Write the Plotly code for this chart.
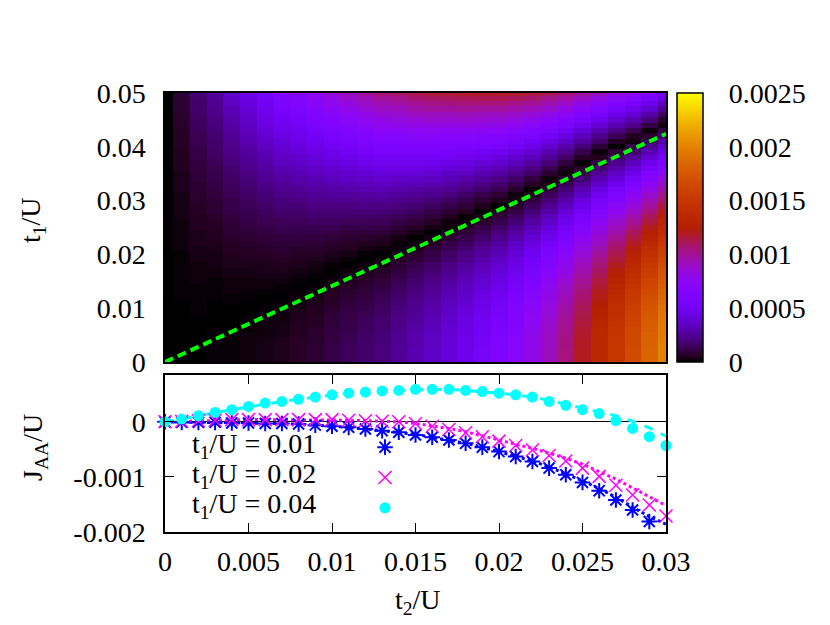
import numpy as np
import plotly.graph_objects as go

# map grid: t2/U along x, t1/U along y
t2_map = [0.0, 0.001, 0.002, 0.003, 0.004, 0.005, 0.006, 0.007, 0.008, 0.009, 0.01,
          0.011, 0.012, 0.013, 0.014, 0.015, 0.016, 0.017, 0.018, 0.019, 0.02,
          0.021, 0.022, 0.023, 0.024, 0.025, 0.026, 0.027, 0.028, 0.029, 0.03]
t1_map = [0.0, 0.001, 0.002, 0.003, 0.004, 0.005, 0.006, 0.007, 0.008, 0.009, 0.01,
          0.011, 0.012, 0.013, 0.014, 0.015, 0.016, 0.017, 0.018, 0.019, 0.02,
          0.021, 0.022, 0.023, 0.024, 0.025, 0.026, 0.027, 0.028, 0.029, 0.03,
          0.031, 0.032, 0.033, 0.034, 0.035, 0.036, 0.037, 0.038, 0.039, 0.04,
          0.041, 0.042, 0.043, 0.044, 0.045, 0.046, 0.047, 0.048, 0.049, 0.05]

# |J_AA|/U in units of 1e-5, one list per t2 column (t1 = 0 ... 0.05)
jaa_map = [
    [0,0,0,0,0,0,0,0,0,0, 0,0,0,0,0,0,0,0,0,0, 0,0,0,0,0,0,0,0,0,0, 0,0,0,0,0,0,0,0,0,0, 0,0,0,0,0,0,0,0,0,0, 0],
    [0,0,0,0,0,0,0,0,0,0, 0,0,1,1,1,1,1,1,1,1, 1,2,2,2,2,2,2,3,3,3, 3,3,4,4,4,4,5,5,5,5, 6,6,6,6,7,7,7,8,8,8, 9],
    [0,0,0,0,0,0,0,0,0,1, 1,1,1,1,1,2,2,2,2,3, 3,3,4,4,4,5,5,5,6,6, 7,7,8,8,9,9,10,10,11,11, 12,13,13,14,15,15,16,17,17,18, 19],
    [1,1,1,1,1,1,1,0,0,0, 0,0,1,1,1,1,2,2,3,3, 3,4,4,5,5,6,6,7,8,8, 9,10,10,11,12,12,13,14,15,16, 17,17,18,19,20,21,22,23,24,25, 26],
    [1,1,1,1,1,1,0,0,0,0, 0,1,1,2,2,2,3,3,4,4, 5,6,6,7,8,8,9,10,11,12, 12,13,14,15,16,17,18,20,21,22, 23,24,25,27,28,29,31,32,34,35, 36],
    [2,2,2,2,2,2,1,1,1,0, 0,0,1,1,2,2,3,3,4,5, 6,6,7,8,9,10,11,12,13,14, 15,16,17,19,20,21,23,24,25,27, 28,30,32,33,35,36,38,40,42,44, 46],
    [3,3,3,3,3,2,2,2,2,1, 1,0,0,1,2,2,3,4,4,5, 6,7,8,9,10,11,13,14,15,16, 18,19,21,22,24,25,27,28,30,32, 34,36,38,40,42,44,46,48,50,52, 54],
    [4,4,4,4,4,3,3,3,2,2, 1,1,0,1,1,2,3,4,5,6, 7,8,9,10,12,13,14,16,17,19, 20,22,24,25,27,29,31,33,35,37, 39,41,44,46,48,51,53,56,58,61, 64],
    [6,6,6,6,6,5,5,5,4,4, 3,2,2,1,0,1,2,3,4,5, 6,7,9,10,11,13,14,16,18,19, 21,23,25,27,29,31,33,35,37,40, 42,44,47,49,52,55,57,60,63,66, 69],
    [8,8,8,8,7,7,7,6,6,5, 5,4,3,2,1,0,1,2,3,4, 6,7,8,10,12,13,15,17,19,21, 23,25,27,29,31,34,36,39,41,44, 46,49,52,55,58,61,64,67,70,74, 77],
    [11,11,11,11,10,10,10,9,9,8, 7,6,6,5,4,2,1,0,1,3, 4,6,7,9,11,13,15,17,19,21, 23,26,28,30,33,36,38,41,44,47, 50,53,56,59,63,66,69,73,77,80, 84],
    [14,14,14,14,13,13,12,12,11,11, 10,9,8,7,6,5,3,2,0,1, 3,5,6,8,10,12,14,17,19,21, 24,26,29,32,35,37,40,43,47,50, 53,57,60,64,67,71,75,79,83,87, 91],
    [17,17,17,17,16,16,15,15,14,13, 12,11,10,9,8,7,5,4,2,0, 1,3,5,7,9,12,14,17,19,22, 24,27,30,33,36,39,43,46,49,53, 57,60,64,68,72,76,80,85,89,93, 98],
    [20,20,20,20,19,19,18,18,17,16, 15,14,13,12,10,9,7,6,4,2, 0,2,4,6,9,11,14,16,19,22, 25,28,31,34,38,41,45,48,52,56, 60,64,68,72,77,81,86,90,95,100, 105],
    [25,25,25,25,24,24,23,22,22,21, 20,19,17,16,15,13,11,10,8,6, 4,2,1,3,6,8,11,14,17,20, 23,26,29,33,36,40,44,48,52,56, 60,64,68,73,78,82,87,92,97,102, 108],
    [30,30,30,29,29,29,28,27,26,25, 24,23,22,20,19,17,15,14,12,9, 7,5,2,0,3,6,9,12,15,18, 21,25,28,32,36,40,44,48,52,57, 61,66,71,75,80,85,91,96,101,107, 112],
    [35,35,35,34,34,34,33,32,31,30, 29,28,26,25,23,22,20,18,16,13, 11,9,6,3,0,3,6,9,12,15, 19,23,26,30,34,39,43,47,52,56, 61,66,71,76,81,87,92,98,103,109, 115],
    [41,41,41,40,40,39,39,38,37,36, 35,33,32,30,29,27,25,23,21,18, 16,13,11,8,5,2,2,5,8,12, 16,20,24,28,32,36,41,45,50,55, 60,65,70,75,81,87,92,98,104,110, 116],
    [47,47,47,46,46,45,45,44,43,42, 40,39,37,36,34,32,30,28,26,23, 21,18,15,12,9,6,2,1,5,9, 12,16,21,25,29,34,39,43,48,53, 59,64,69,75,81,87,93,99,105,111, 118],
    [54,54,54,53,53,52,52,51,50,48, 47,46,44,42,40,38,36,34,32,29, 26,24,21,17,14,11,7,4,0,4, 8,12,17,21,26,31,35,40,46,51, 56,62,68,74,80,86,92,98,105,112, 118],
    [61,61,61,60,60,59,58,57,56,55, 54,52,51,49,47,45,43,40,38,35, 32,29,26,23,20,16,12,9,5,0, 4,8,13,17,22,27,32,38,43,49, 54,60,66,72,78,85,91,98,105,112, 119],
    [70,70,70,69,69,68,67,66,65,64, 63,61,59,57,55,53,51,48,46,43, 40,37,34,30,27,23,19,15,11,7, 3,2,7,12,17,22,27,33,38,44, 50,56,62,69,75,82,89,96,103,110, 118],
    [80,80,80,79,79,78,77,76,75,74, 72,71,69,67,65,62,60,57,55,52, 49,46,42,39,35,31,27,23,19,14, 10,5,0,5,10,16,21,27,33,39, 45,51,58,64,71,78,85,92,100,107, 115],
    [92,92,92,91,91,90,89,88,87,85, 84,82,80,78,76,74,71,69,66,63, 60,56,53,49,45,41,37,33,28,24, 19,14,9,4,2,7,13,19,25,31, 38,44,51,58,65,72,79,87,95,102, 110],
    [105,105,105,104,104,103,102,101,100,98, 97,95,93,91,89,86,83,81,78,75, 71,68,64,61,57,53,48,44,39,34, 29,24,19,14,8,2,4,10,16,23, 29,36,43,50,58,65,73,81,89,97, 105],
    [120,120,120,119,119,118,117,116,114,113, 111,109,107,105,103,100,98,95,92,89, 85,82,78,74,70,66,61,57,52,47, 42,36,31,25,19,13,7,1,6,12, 19,26,33,41,48,56,64,72,80,89, 98],
    [135,135,135,134,134,133,132,131,129,128, 126,124,122,120,117,115,112,109,106,103, 99,95,91,87,83,79,74,69,64,59, 54,49,43,37,31,25,18,12,5,2, 9,16,24,31,39,47,55,64,72,81, 90],
    [150,150,150,149,149,148,147,145,144,142, 141,139,137,134,132,129,126,123,120,116, 113,109,105,101,96,92,87,82,77,72, 66,61,55,49,42,36,29,23,16,9, 1,6,14,22,30,38,47,55,64,73, 82],
    [166,166,166,165,164,164,163,161,160,158, 156,154,152,150,147,144,141,138,135,131, 127,123,119,115,110,105,100,95,90,84, 79,73,67,60,54,47,40,33,26,18, 11,3,5,13,22,30,39,48,57,67, 76],
    [183,183,183,182,181,181,179,178,177,175, 173,171,169,166,163,161,157,154,151,147, 143,139,135,130,125,121,115,110,105,99, 93,87,81,74,67,61,53,46,39,31, 23,15,7,2,11,20,29,38,47,57, 67],
    [200,200,200,199,198,197,196,195,193,192, 190,188,185,183,180,177,174,171,167,163, 159,155,151,146,141,136,131,126,120,114, 108,102,96,89,82,75,68,60,53,45, 37,29,20,11,3,7,16,25,35,45, 55],
]

# t1 = sqrt(2) t2 guide line
guide_t2 = [0.0, 0.03]
guide_t1 = [0.0, 0.0424]

# lower panel: J_AA/U against t2/U
t2_pts = [0.0, 0.001, 0.002, 0.003, 0.004, 0.005, 0.006, 0.007, 0.008, 0.009, 0.01,
          0.011, 0.012, 0.013, 0.014, 0.015, 0.016, 0.017, 0.018, 0.019, 0.02,
          0.021, 0.022, 0.023, 0.024, 0.025, 0.026, 0.027, 0.028, 0.029, 0.03]
jaa_001 = [0, -0.00001, -0.00001, -0.00001, -0.00002, -0.00002, -0.00003, -0.00003, -0.00004, -0.00006,
           -0.00008, -0.0001, -0.00013, -0.00016, -0.00019, -0.00024, -0.00028, -0.00033, -0.00039, -0.00046,
           -0.00054, -0.00063, -0.00072, -0.00084, -0.00096, -0.0011, -0.00125, -0.00142, -0.0016, -0.00181]
jaa_002 = [0, 0.00001, 0.00002, 0.00003, 0.00004, 0.00004, 0.00004, 0.00004, 0.00004, 0.00004,
           0.00004, 0.00003, 0.00002, 0.00001, 0, -0.00003, -0.00008, -0.00014, -0.0002, -0.00027,
           -0.00035, -0.00043, -0.00051, -0.00061, -0.00071, -0.00084, -0.00099, -0.00115, -0.00133, -0.00151,
           -0.00171]
jaa_004 = [0, 0.00005, 0.00011, 0.00017, 0.00022, 0.00028, 0.00034, 0.00037, 0.00041, 0.00045,
           0.00049, 0.00052, 0.00054, 0.00056, 0.00057, 0.00059, 0.00059, 0.00059, 0.00057, 0.00055,
           0.00052, 0.00049, 0.00045, 0.00037, 0.0003, 0.00022, 0.00015, 0.00002, -0.00012, -0.00027,
           -0.00043]
# approximate curves drawn through the points
fit_001 = [0, -0.00001, -0.00001, -0.00001, -0.00002, -0.00002, -0.00003, -0.00003, -0.00004, -0.00006,
           -0.00008, -0.0001, -0.00013, -0.00016, -0.00019, -0.00023, -0.00028, -0.00033, -0.00039, -0.00046,
           -0.00054, -0.00062, -0.00071, -0.00082, -0.00094, -0.00107, -0.00121, -0.00137, -0.00155, -0.00172,
           -0.00186]
fit_002 = [0, 0.00001, 0.00002, 0.00003, 0.00004, 0.00004, 0.00004, 0.00004, 0.00004, 0.00004,
           0.00004, 0.00003, 0.00002, 0.00001, 0, -0.00003, -0.00007, -0.00012, -0.00018, -0.00025,
           -0.00033, -0.00041, -0.00048, -0.00057, -0.00066, -0.00077, -0.0009, -0.00104, -0.0012, -0.00136,
           -0.00152]
fit_004 = [0, 0.00005, 0.00011, 0.00017, 0.00022, 0.00028, 0.00033, 0.00037, 0.00041, 0.00045,
           0.00049, 0.00052, 0.00054, 0.00056, 0.00057, 0.00058, 0.00059, 0.00059, 0.00057, 0.00055,
           0.00052, 0.00049, 0.00045, 0.00039, 0.00032, 0.00024, 0.00017, 0.00011, 0.00001, -0.00011,
           -0.00026]

# the page body has an 8px margin, so the figure is a bit smaller than the window
OFF = 8
W, H = 830 - 2 * OFF, 625 - 2 * OFF
FONT = dict(family="Liberation Serif", size=28, color="black")


def px_x(p):
    return (p - OFF) / W


def px_y(p):
    return 1 - (p - OFF) / H


# gnuplot rgbformulae 7,5,15
pal = []
for k in range(51):
    v = k / 50
    r, g, b = np.sqrt(v), v ** 3, max(0.0, np.sin(2 * np.pi * v))
    pal.append([v, "rgb(%d,%d,%d)" % (round(255 * r), round(255 * g), round(255 * b))])

fig = go.Figure()

fig.add_trace(go.Heatmap(x=t2_map, y=t1_map, z=np.array(jaa_map) * 1e-5, transpose=True,
                         colorscale=pal, zmin=0, zmax=0.0025, hoverinfo="skip",
                         xaxis="x", yaxis="y",
                         colorbar=dict(x=px_x(677), xanchor="left", xpad=0,
                                       y=px_y(93), yanchor="top", ypad=0,
                                       lenmode="pixels", len=269,
                                       thicknessmode="pixels", thickness=26,
                                       outlinecolor="black", outlinewidth=1.5,
                                       tickvals=[0, 0.0005, 0.001, 0.0015, 0.002, 0.0025],
                                       ticktext=["0", "0.0005", "0.001", "0.0015", "0.002", "0.0025"],
                                       ticks="outside", ticklen=20, tickcolor="rgba(0,0,0,0)",
                                       tickfont=FONT)))
fig.add_trace(go.Scatter(x=guide_t2, y=guide_t1, mode="lines", xaxis="x", yaxis="y",
                         line=dict(color="#00ff00", width=4, dash="9px,5px"),
                         showlegend=False, hoverinfo="skip"))

# curves
for yy, col, dash in [(fit_001, "#0000ff", "dot"), (fit_002, "#ff00ff", "dot"), (fit_004, "#00ffff", "dash")]:
    fig.add_trace(go.Scatter(x=t2_pts[:len(yy)], y=yy, mode="lines", xaxis="x2", yaxis="y2",
                             line=dict(color=col, width=3, dash=dash), showlegend=False))

# points
fig.add_trace(go.Scatter(x=t2_pts[:len(jaa_001)], y=jaa_001, mode="markers", xaxis="x2", yaxis="y2",
                         name=" ", cliponaxis=False,
                         marker=dict(symbol="asterisk-open", size=13, color="#0000ff",
                                     line=dict(color="#0000ff", width=2))))
fig.add_trace(go.Scatter(x=t2_pts, y=jaa_002, mode="markers", xaxis="x2", yaxis="y2",
                         name=" ", cliponaxis=False,
                         marker=dict(symbol="x-thin-open", size=13, color="#ff00ff",
                                     line=dict(color="#ff00ff", width=1.5))))
fig.add_trace(go.Scatter(x=t2_pts, y=jaa_004, mode="markers", xaxis="x2", yaxis="y2",
                         name=" ", cliponaxis=False,
                         marker=dict(symbol="circle", size=11, color="#00ffff")))

axis_common = dict(showgrid=False, showline=True, linecolor="black", linewidth=1.5,
                   tickfont=FONT, tickcolor="black", automargin=False)

fig.update_layout(
    width=W, height=H, margin=dict(l=0, r=0, t=0, b=0, autoexpand=False),
    paper_bgcolor="white", plot_bgcolor="white", font=FONT,
    xaxis=dict(domain=[px_x(165), px_x(666)], range=[0, 0.03], anchor="y",
               showticklabels=False, ticks="", mirror=True, zeroline=False, **axis_common),
    yaxis=dict(domain=[px_y(362), px_y(93)], range=[0, 0.05], anchor="x",
               tickvals=[0, 0.01, 0.02, 0.03, 0.04, 0.05],
               ticktext=["0", "0.01", "0.02", "0.03", "0.04", "0.05"],
               ticks="", mirror=True, zeroline=False, ticklabelstandoff=12, **axis_common),
    xaxis2=dict(domain=[px_x(165), px_x(666)], range=[0, 0.03], anchor="y2",
                tickvals=[0, 0.005, 0.01, 0.015, 0.02, 0.025, 0.03],
                ticktext=["0", "0.005", "0.01", "0.015", "0.02", "0.025", "0.03"],
                ticks="inside", ticklen=9, mirror="ticks", zeroline=False,
                ticklabelstandoff=4, **axis_common),
    yaxis2=dict(domain=[px_y(532), px_y(375)], range=[-0.002, 0.00085], anchor="x2",
                tickvals=[-0.002, -0.001, 0], ticktext=["-0.002", "-0.001", "0"],
                ticks="inside", ticklen=9, mirror="ticks",
                zeroline=True, zerolinecolor="black", zerolinewidth=1,
                ticklabelstandoff=12, **axis_common),
    legend=dict(x=px_x(365), y=px_y(427), xanchor="left", yanchor="top",
                bgcolor="rgba(0,0,0,0)", font=dict(family="Liberation Serif", size=21),
                tracegroupgap=0),
)

labels = [
    ("t<sub>1</sub>/U", 32, 220, -90, "center"),
    ("J<sub>AA</sub>/U", 34, 448, -90, "center"),
    ("t<sub>2</sub>/U", 418, 601, 0, "center"),
    ("t<sub>1</sub>/U = 0.01", 318, 445, 0, "right"),
    ("t<sub>1</sub>/U = 0.02", 318, 476, 0, "right"),
    ("t<sub>1</sub>/U = 0.04", 318, 505, 0, "right"),
]
for txt, x, y, ang, anc in labels:
    fig.add_annotation(text=txt, x=px_x(x), y=px_y(y), xref="paper", yref="paper",
                       xanchor=anc, yanchor="middle", textangle=ang, showarrow=False, font=FONT)

fig.write_html("out.html")
